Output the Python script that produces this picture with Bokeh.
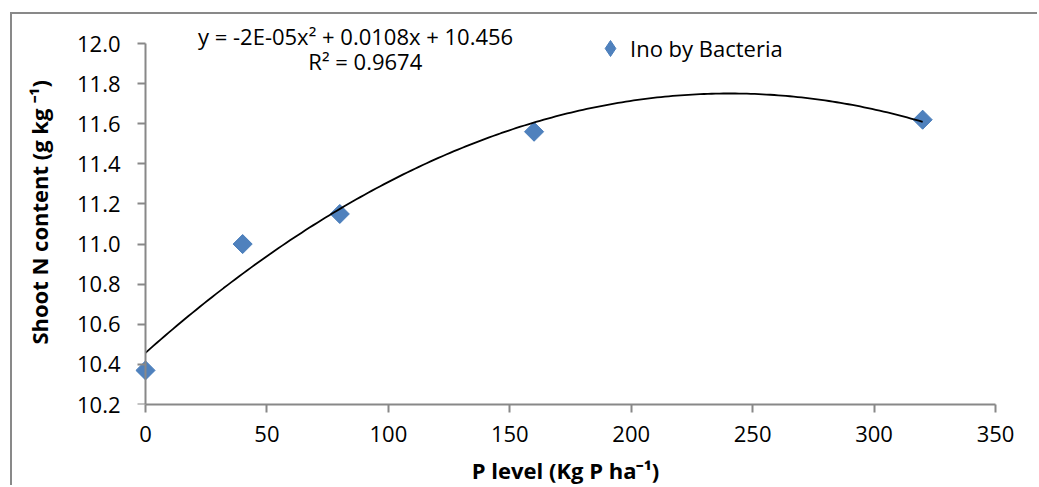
import numpy as np
from bokeh.plotting import figure
from bokeh.models import (FixedTicker, Range1d, Label, Legend, LegendItem,
                          PrintfTickFormatter, ColumnDataSource, LinearAxis)
from bokeh.embed import file_html
from bokeh.resources import INLINE

# ---- data ----
p_level = [0, 40, 80, 160, 320]
shoot_n = [10.37, 11.00, 11.15, 11.56, 11.62]
x_ticks = [0, 50, 100, 150, 200, 250, 300, 350]
y_ticks = [10.2, 10.4, 10.6, 10.8, 11.0, 11.2, 11.4, 11.6, 11.8, 12.0]
series_name = "Ino by Bacteria"
equation_text = "y = -2E-05x² + 0.0108x + 10.456"
r2_text = "R² = 0.9674"
x_title = "P level (Kg P ha⁻¹)"
y_title = "Shoot N content  (g kg ⁻¹)"

FONT = "Open Sans"
AXIS_GRAY = "#888888"
FILL = "#4F81BD"
EDGE = "#4A7EBB"

# ---- layout geometry (pixels) ----
X0, X1 = x_ticks[0], x_ticks[-1]
Y0, Y1 = y_ticks[0], y_ticks[-1]
axis_px_w = 850.0           # width of the 0..350 span
axis_px_h = 361.0           # height of the 10.2..12.0 span
pad_left_px = 10            # frame extends a bit left of x=0 so the marker is not clipped
pad_top_px = 29             # frame extends above 12.0 so texts are not clipped
x_start = X0 - pad_left_px * (X1 - X0) / axis_px_w
y_end = Y1 + pad_top_px * (Y1 - Y0) / axis_px_h

p = figure(width=1027, height=473,
           x_range=Range1d(x_start, X1), y_range=Range1d(Y0, y_end),
           output_backend="svg", toolbar_location=None,
           min_border_left=123, min_border_right=44,
           min_border_top=0, min_border_bottom=83)
p.styles = {"margin-left": "10px", "margin-top": "12px",
            "border-left": "2px solid #898989", "border-top": "2px solid #898989"}

p.xgrid.visible = False
p.ygrid.visible = False
p.outline_line_color = None
p.background_fill_color = "white"
p.border_fill_color = "white"

def style_axis(ax):
    ax.axis_line_color = AXIS_GRAY
    ax.axis_line_width = 2
    ax.major_tick_line_color = AXIS_GRAY
    ax.major_tick_line_width = 2
    ax.major_tick_in = 0
    ax.major_tick_out = 8
    ax.minor_tick_line_color = None
    ax.major_label_text_font = FONT
    ax.major_label_text_font_size = "22px"
    ax.major_label_text_color = "black"
    ax.axis_label_text_font = FONT
    ax.axis_label_text_font_size = "22px"
    ax.axis_label_text_font_style = "bold"
    ax.axis_label_text_color = "black"

# x axis
xa = p.xaxis[0]
style_axis(xa)
xa.ticker = FixedTicker(ticks=x_ticks)
xa.bounds = (X0, X1)
xa.major_label_standoff = 13
xa.axis_label = x_title
xa.axis_label_standoff = 10

# y axis: labels + title at the frame edge
ya = p.yaxis[0]
style_axis(ya)
ya.ticker = FixedTicker(ticks=y_ticks)
ya.formatter = PrintfTickFormatter(format="%.1f")
ya.bounds = (Y0, Y1)
ya.axis_line_color = None
ya.major_tick_line_color = None
ya.major_tick_out = 0
ya.major_label_standoff = 15
ya.axis_label = y_title
ya.axis_label_standoff = 20

# y axis line + ticks drawn at x = 0
ya0 = LinearAxis(fixed_location=0, ticker=FixedTicker(ticks=y_ticks), bounds=(Y0, Y1))
style_axis(ya0)
ya0.major_label_text_font_size = "0px"
ya0.major_label_text_color = None
ya0.major_label_standoff = 0
p.add_layout(ya0, "left")

# data points: diamond layer (used for the legend swatch) under rotated squares
src = ColumnDataSource(data=dict(x=p_level, y=shoot_n))
dia = p.scatter(x="x", y="y", source=src, marker="diamond", size=18,
                fill_color=FILL, line_color=EDGE)
sq = p.scatter(x="x", y="y", source=src, marker="square", size=13.5,
               angle=np.pi / 4, fill_color=FILL, line_color=EDGE)

# polynomial (order 2) trendline fitted to the data
coef = np.polyfit(p_level, shoot_n, 2)
fx = np.linspace(min(p_level), max(p_level), 200)
p.line(fx, np.polyval(coef, fx), line_color="black", line_width=1.8)

# equation / R² labels
p.add_layout(Label(x=86.5, y=12.037, text=equation_text, text_align="center",
                   text_baseline="middle", text_font=FONT, text_font_size="22px",
                   text_color="black"))
p.add_layout(Label(x=90.5, y=11.915, text=r2_text, text_align="center",
                   text_baseline="middle", text_font=FONT, text_font_size="22px",
                   text_color="black"))

legend = Legend(items=[LegendItem(label=series_name, renderers=[dia])],
                location=(455, 336), glyph_width=40, glyph_height=40,
                label_height=40, label_standoff=0, padding=0, margin=0,
                border_line_color=None, background_fill_alpha=0,
                label_text_font=FONT, label_text_font_size="22px",
                label_text_color="black", label_text_baseline="middle")
p.add_layout(legend)

open("out.html", "w").write(file_html(p, INLINE))
